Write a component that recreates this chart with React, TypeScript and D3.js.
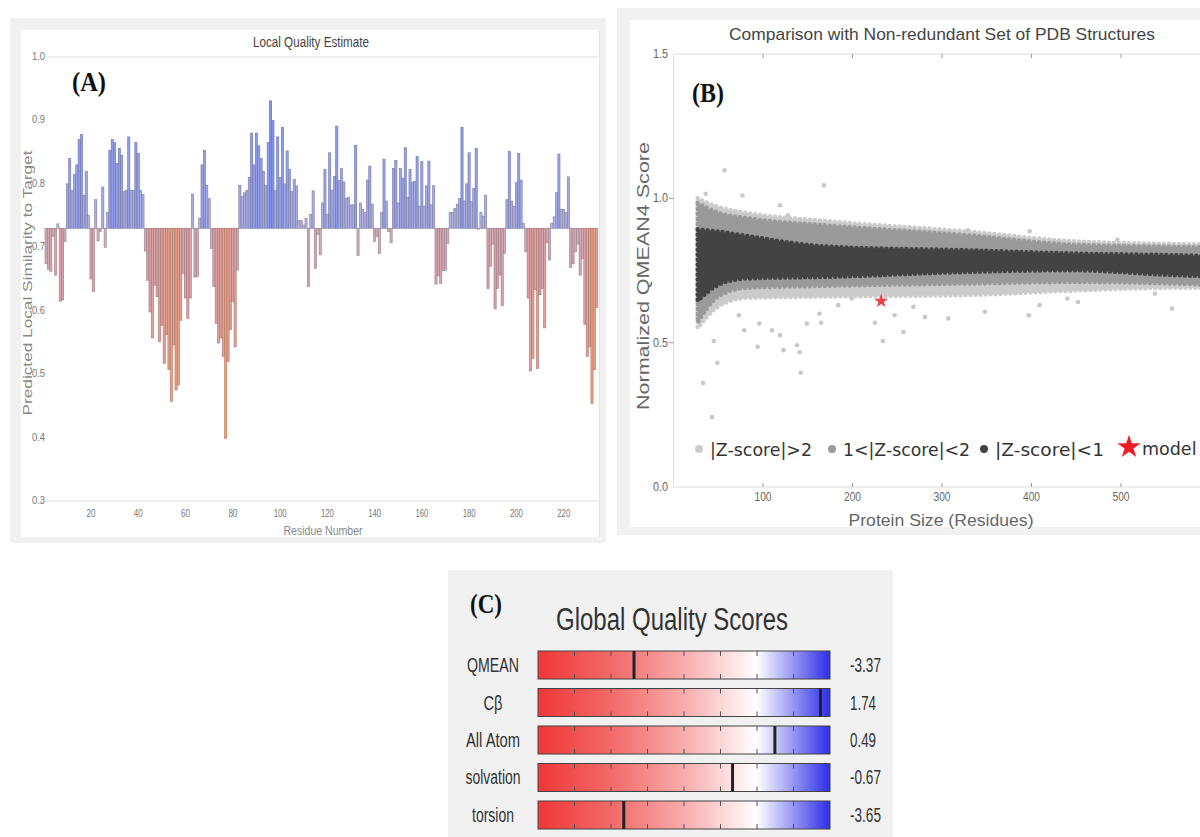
import * as d3 from "d3";

// ---- panel A: local quality estimate (one value per residue) ----
const residueScores = [
  0.674, 0.665, 0.662, 0.717, 0.656, 0.737, 0.615, 0.617, 0.709,
  0.8, 0.84, 0.79, 0.815, 0.83, 0.87, 0.878, 0.782, 0.82, 0.75,
  0.65, 0.63, 0.775, 0.71, 0.725, 0.795, 0.7, 0.755, 0.853, 0.87,
  0.865, 0.832, 0.856, 0.845, 0.788, 0.79, 0.874, 0.79, 0.79, 0.865,
  0.848, 0.79, 0.783, 0.694, 0.648, 0.598, 0.557, 0.64, 0.622, 0.551,
  0.577, 0.517, 0.562, 0.507, 0.457, 0.546, 0.475, 0.483, 0.585, 0.659,
  0.62, 0.588, 0.62, 0.784, 0.653, 0.654, 0.746, 0.83, 0.853, 0.798,
  0.777, 0.698, 0.638, 0.58, 0.549, 0.557, 0.528, 0.399, 0.52, 0.57,
  0.614, 0.543, 0.664, 0.798, 0.78, 0.786, 0.79, 0.81, 0.88, 0.83,
  0.88, 0.86, 0.84, 0.82, 0.798, 0.865, 0.931, 0.9, 0.79, 0.874,
  0.81, 0.889, 0.8, 0.852, 0.823, 0.788, 0.807, 0.797, 0.742, 0.742,
  0.735, 0.746, 0.638, 0.752, 0.789, 0.667, 0.72, 0.688, 0.77, 0.823,
  0.752, 0.849, 0.79, 0.812, 0.891, 0.805, 0.824, 0.803, 0.777, 0.779,
  0.767, 0.767, 0.861, 0.687, 0.77, 0.76, 0.755, 0.806, 0.828, 0.768,
  0.709, 0.717, 0.69, 0.755, 0.839, 0.773, 0.725, 0.707, 0.824, 0.837,
  0.77, 0.824, 0.809, 0.857, 0.779, 0.823, 0.802, 0.804, 0.843, 0.765,
  0.835, 0.765, 0.797, 0.836, 0.767, 0.797, 0.642, 0.655, 0.643, 0.663,
  0.664, 0.706, 0.755, 0.755, 0.761, 0.768, 0.777, 0.889,
  0.773, 0.8, 0.849, 0.772, 0.793, 0.856, 0.728, 0.755, 0.749, 0.782,
  0.635, 0.67, 0.705, 0.603, 0.635, 0.656, 0.608, 0.69,
  0.775, 0.851, 0.773, 0.765, 0.802, 0.848, 0.806, 0.738,
  0.693, 0.62, 0.505, 0.525, 0.633, 0.509, 0.625, 0.635, 0.573, 0.707, 0.68,
  0.738, 0.748, 0.786, 0.847, 0.76, 0.76, 0.755, 0.811,
  0.668, 0.674, 0.693, 0.705, 0.656, 0.682, 0.578, 0.528, 0.543, 0.454, 0.507, 0.605,
];
const scoreBaseline = 0.73;
const localYTicks = [0.3, 0.4, 0.5, 0.6, 0.7, 0.8, 0.9, 1.0];
const localXTicks = [20, 40, 60, 80, 100, 120, 140, 160, 180, 200, 220];

// ---- panel B: reference set, read as envelopes of the point cloud ----
const bandSizes = [27, 50, 81, 176, 329, 444, 559, 600];
const darkTop = [0.892, 0.885, 0.87, 0.832, 0.82, 0.809, 0.803, 0.8];
const darkBottom = [0.645, 0.7, 0.722, 0.728, 0.745, 0.751, 0.734, 0.73];
const midTop = [0.983, 0.95, 0.932, 0.905, 0.872, 0.84, 0.832, 0.83];
const midBottom = [0.57, 0.66, 0.69, 0.697, 0.705, 0.71, 0.705, 0.7];
const lightTop = [1.0, 0.97, 0.95, 0.92, 0.885, 0.852, 0.842, 0.84];
const lightBottom = [0.55, 0.625, 0.655, 0.66, 0.665, 0.68, 0.69, 0.69];
const outlierSize = [57, 168, 36, 77, 119, 128, 329, 398, 496, 234, 257, 225, 268, 247, 281, 307, 348, 397, 409, 440, 452, 538, 557, 142, 138, 123, 94, 79, 49, 45, 184, 199, 165, 149, 163, 110, 119, 96, 73, 33, 43, 141];
const outlierScore = [1.097, 1.045, 1.016, 1.01, 0.976, 0.941, 0.889, 0.886, 0.857, 0.506, 0.537, 0.569, 0.624, 0.595, 0.589, 0.584, 0.607, 0.595, 0.63, 0.653, 0.641, 0.67, 0.618, 0.396, 0.491, 0.474, 0.486, 0.543, 0.43, 0.506, 0.63, 0.653, 0.569, 0.566, 0.6, 0.543, 0.526, 0.566, 0.595, 0.36, 0.242, 0.467];
const modelSize = 232;
const modelScore = 0.644;
const sizeTicks = [100, 200, 300, 400, 500];
const qmeanTicks = [0.0, 0.5, 1.0, 1.5];
const legendLabels = ["|Z-score|>2", "1<|Z-score|<2", "|Z-score|<1", "model"];

// ---- panel C: global quality scores ----
const scoreNames = ["QMEAN", "Cβ", "All Atom", "solvation", "torsion"];
const scoreValues = [-3.37, 1.74, 0.49, -0.67, -3.65];
const scoreTicks = [-5, -4, -3, -2, -1, 0, 1];

const SANS = "'Liberation Sans', Arial, sans-serif";
const SERIF = "'Liberation Serif', 'Times New Roman', serif";
const labelWidths: Record<string, number> = { QMEAN: 52, "Cβ": 19, "All Atom": 54, solvation: 55, torsion: 42 };

function LocalQuality() {
  const n = residueScores.length;
  const x = d3.scaleLinear().domain([0.5, n + 0.5]).range([45, 598]);
  const y = d3.scaleLinear().domain([0.3, 1.0]).range([501, 57]);
  const up = d3.scaleLinear<string>().domain([scoreBaseline, 0.93]).range(["#bab6dc", "#8093f2"]).clamp(true);
  const down = d3.scaleLinear<string>().domain([scoreBaseline, 0.62, 0.4]).range(["#cdb4c4", "#d9a2ac", "#f89f72"]).clamp(true);
  const bw = x(1.5) - x(0.5);
  return (
    <g>
      <rect x={10} y={18} width={596} height={525} fill="#f1f1f1" />
      <rect x={21} y={30} width={579} height={507} fill="#fff" />
      <line x1={599.5} x2={599.5} y1={30} y2={537} stroke="#e2e2e2" />
      <text x={311} y={47} textAnchor="middle" fontFamily={SANS} fontSize={14} fill="#444" textLength={116} lengthAdjust="spacingAndGlyphs">
        Local Quality Estimate
      </text>
      <line x1={45} x2={598} y1={y(1)} y2={y(1)} stroke="#dcdcdc" />
      <line x1={45} x2={598} y1={y(0.3)} y2={y(0.3)} stroke="#dcdcdc" />
      {localYTicks.map((t) => (
        <text key={t} x={45} y={y(t) + 3} textAnchor="end" fontFamily={SANS} fontSize={10} fill="#777" textLength={13} lengthAdjust="spacingAndGlyphs">
          {t.toFixed(1)}
        </text>
      ))}
      {localXTicks.map((t) => (
        <text key={t} x={x(t)} y={517} textAnchor="middle" fontFamily={SANS} fontSize={10.5} fill="#777" lengthAdjust="spacingAndGlyphs" textLength={t >= 100 ? 13 : 9}>
          {t}
        </text>
      ))}
      {residueScores.map((v, i) => {
        const top = Math.min(y(v), y(scoreBaseline));
        const h = Math.abs(y(v) - y(scoreBaseline));
        const fill = v >= scoreBaseline ? up(v) : down(v);
        return (
          <rect
            key={i}
            x={x(i + 0.5)}
            y={top}
            width={bw - 0.2}
            height={h}
            fill={fill}
            stroke={d3.color(fill)!.darker(0.9).toString()}
            strokeWidth={0.6}
          />
        );
      })}
      <text x={323} y={535} textAnchor="middle" fontFamily={SANS} fontSize={13} fill="#888" textLength={79} lengthAdjust="spacingAndGlyphs">
        Residue Number
      </text>
      <text transform="translate(32,283) rotate(-90)" textAnchor="middle" fontFamily={SANS} fontSize={13} fill="#888" textLength={265} lengthAdjust="spacingAndGlyphs">
        Predicted Local Similarity to Target
      </text>
      <text x={72} y={91} fontFamily={SERIF} fontWeight={700} fontSize={27} fill="#111" textLength={34} lengthAdjust="spacingAndGlyphs">
        (A)
      </text>
    </g>
  );
}

function Comparison() {
  const x = d3.scaleLinear().domain([0, 600]).range([673.5, 1210.5]);
  const y = d3.scaleLinear().domain([0, 1.5]).range([487, 54]);
  const band = (top: number[], bottom: number[]) =>
    d3
      .area<number>()
      .x((d) => x(d))
      .y0((_, i) => y(bottom[i]))
      .y1((_, i) => y(top[i]))
      .curve(d3.curveMonotoneX)(bandSizes) || "";
  const star = d3.symbol().type(d3.symbolStar);
  const bands = [
    { d: band(lightTop, lightBottom), c: "#cbcbcb" },
    { d: band(midTop, midBottom), c: "#9a9a9a" },
    { d: band(darkTop, darkBottom), c: "#434343" },
  ];
  const legendX = [699, 832, 984];
  const legendColors = ["#cbcbcb", "#9a9a9a", "#434343"];
  const legendWidths = [102, 127, 109];
  return (
    <g>
      <rect x={617} y={8} width={583} height={527} fill="#f1f1f1" />
      <rect x={630} y={20} width={570} height={507} fill="#fff" />
      <text x={942} y={40} textAnchor="middle" fontFamily={SANS} fontSize={17} fill="#444" textLength={426} lengthAdjust="spacingAndGlyphs">
        Comparison with Non-redundant Set of PDB Structures
      </text>
      <line x1={673.5} x2={1200} y1={y(1.5)} y2={y(1.5)} stroke="#dcdcdc" />
      <line x1={673.5} x2={1200} y1={y(0)} y2={y(0)} stroke="#dcdcdc" />
      <line x1={673.5} x2={673.5} y1={y(1.5)} y2={y(0)} stroke="#dcdcdc" />
      {sizeTicks.map((t) => (
        <g key={t}>
          <line x1={x(t)} x2={x(t)} y1={y(1.5)} y2={y(1.5) + 4} stroke="#999" />
          <line x1={x(t)} x2={x(t)} y1={y(0)} y2={y(0) - 4} stroke="#999" />
          <text x={x(t)} y={501} textAnchor="middle" fontFamily={SANS} fontSize={12} fill="#666" textLength={17} lengthAdjust="spacingAndGlyphs">
            {t}
          </text>
        </g>
      ))}
      {qmeanTicks.map((t) => (
        <g key={t}>
          {t > 0 && t < 1.5 && <line x1={669} x2={673.5} y1={y(t)} y2={y(t)} stroke="#999" />}
          <text x={668} y={y(t) + 4} textAnchor="end" fontFamily={SANS} fontSize={12} fill="#666" textLength={15} lengthAdjust="spacingAndGlyphs">
            {t.toFixed(1)}
          </text>
        </g>
      ))}
      {bands.map((b, i) => (
        <path key={i} d={b.d} fill={b.c} stroke={b.c} strokeWidth={4.5} strokeDasharray="0 5" strokeLinecap="round" />
      ))}
      {outlierSize.map((s, i) => (
        <circle key={i} cx={x(s)} cy={y(outlierScore[i])} r={2.3} fill="#c8c8c8" />
      ))}
      <path d={star.size(62)() || ""} transform={`translate(${x(modelSize)},${y(modelScore)})`} fill="#e8434a" />
      {legendLabels.slice(0, 3).map((l, i) => (
        <g key={l}>
          <circle cx={legendX[i]} cy={449} r={4} fill={legendColors[i]} />
          <text x={legendX[i] + 11} y={455.5} fontFamily="'DejaVu Sans', sans-serif" fontSize={17.5} fill="#333" textLength={legendWidths[i]} lengthAdjust="spacingAndGlyphs">
            {l}
          </text>
        </g>
      ))}
      <path d={star.size(170)() || ""} transform="translate(1129,447)" fill="#ee1c24" />
      <text x={1142} y={455} fontFamily="'DejaVu Sans', sans-serif" fontSize={17.5} fill="#333">
        {legendLabels[3]}
      </text>
      <text x={941} y={526} textAnchor="middle" fontFamily={SANS} fontSize={17} fill="#666" textLength={185} lengthAdjust="spacingAndGlyphs">
        Protein Size (Residues)
      </text>
      <text transform="translate(649,276) rotate(-90)" textAnchor="middle" fontFamily={SANS} fontSize={17} fill="#666" textLength={268} lengthAdjust="spacingAndGlyphs">
        Normalized QMEAN4 Score
      </text>
      <text x={692} y={102} fontFamily={SERIF} fontWeight={700} fontSize={27} fill="#111" textLength={32} lengthAdjust="spacingAndGlyphs">
        (B)
      </text>
    </g>
  );
}

function GlobalScores() {
  const x = d3.scaleLinear().domain([-6, 2]).range([538, 830]);
  const row = d3.scaleBand().domain(scoreNames).range([651, 829]).paddingInner(0.253);
  const h = row.bandwidth();
  return (
    <g>
      <defs>
        <linearGradient id="gq" gradientUnits="userSpaceOnUse" x1={x(-6)} x2={x(2)} y1={0} y2={0}>
          <stop offset={0} stopColor="rgb(240,55,55)" />
          <stop offset={0.25} stopColor="rgb(243,105,105)" />
          <stop offset={0.5} stopColor="rgb(248,172,172)" />
          <stop offset={0.75} stopColor="#ffffff" />
          <stop offset={1} stopColor="rgb(45,45,232)" />
        </linearGradient>
      </defs>
      <rect x={448} y={570} width={445} height={267} fill="#f1f1f1" />
      <text x={470} y={613} fontFamily={SERIF} fontWeight={700} fontSize={27} fill="#111" textLength={32} lengthAdjust="spacingAndGlyphs">
        (C)
      </text>
      <text x={672} y={630} textAnchor="middle" fontFamily={SANS} fontSize={31} fill="#333" textLength={232} lengthAdjust="spacingAndGlyphs">
        Global Quality Scores
      </text>
      {scoreNames.map((name, i) => {
        const top = row(name)!;
        return (
          <g key={name}>
            <rect x={x(-6)} y={top} width={x(2) - x(-6)} height={h} fill="url(#gq)" stroke="#444" strokeWidth={1} />
            {scoreTicks.map((t) => (
              <g key={t}>
                <line x1={x(t)} x2={x(t)} y1={top} y2={top + 5} stroke="#555" />
                <line x1={x(t)} x2={x(t)} y1={top + h - 5} y2={top + h} stroke="#555" />
              </g>
            ))}
            <line x1={x(scoreValues[i])} x2={x(scoreValues[i])} y1={top} y2={top + h} stroke="#222" strokeWidth={3} />
            <text x={493} y={top + h / 2 + 7} textAnchor="middle" fontFamily={SANS} fontSize={20} fill="#333" lengthAdjust="spacingAndGlyphs" textLength={labelWidths[name]}>
              {name}
            </text>
            <text x={850} y={top + h / 2 + 7} fontFamily={SANS} fontSize={20} fill="#333" textLength={scoreValues[i] < 0 ? 31 : 26} lengthAdjust="spacingAndGlyphs">
              {scoreValues[i].toFixed(2)}
            </text>
          </g>
        );
      })}
    </g>
  );
}

export default function App() {
  return (
    <svg width={1200} height={837} style={{ position: "absolute", left: 0, top: 0, background: "#fff" }}>
      <LocalQuality />
      <Comparison />
      <GlobalScores />
    </svg>
  );
}
